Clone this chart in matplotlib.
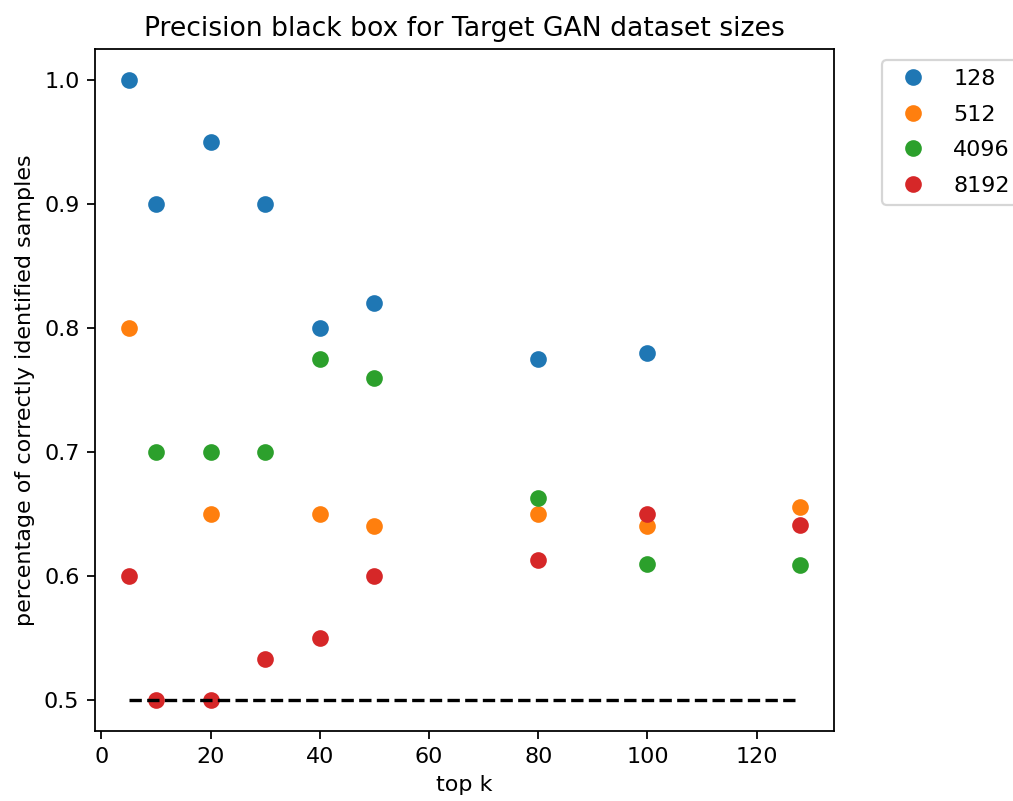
import matplotlib
matplotlib.use("Agg")
import matplotlib.pyplot as plt

top_k = [5, 10, 20, 30, 40, 50, 80, 100, 128]

k_128 = [5, 10, 20, 30, 40, 50, 80, 100]
prec_128 = [1.0, 0.9, 0.95, 0.9, 0.8, 0.82, 0.775, 0.78]

k_512 = [5, 20, 40, 50, 80, 100, 128]
prec_512 = [0.8, 0.65, 0.65, 0.64, 0.65, 0.64, 0.656]

k_4096 = [10, 20, 30, 40, 50, 80, 100, 128]
prec_4096 = [0.7, 0.7, 0.7, 0.775, 0.76, 0.663, 0.61, 0.609]

k_8192 = [5, 10, 20, 30, 40, 50, 80, 100, 128]
prec_8192 = [0.6, 0.5, 0.5, 0.533, 0.55, 0.6, 0.613, 0.65, 0.641]

series = [
    ("128", k_128, prec_128),
    ("512", k_512, prec_512),
    ("4096", k_4096, prec_4096),
    ("8192", k_8192, prec_8192),
]

baseline = 0.5

DPI = 160
fig = plt.figure(figsize=(1013 / DPI, 801 / DPI), dpi=DPI)
ax = fig.add_axes([95 / 1013, 1 - 731 / 801, (834 - 95) / 1013, (731 - 49) / 801])

for label, k, p in series:
    ax.plot(k, p, "o", markersize=6.5, label=label)

ax.plot([top_k[0], top_k[-1]], [baseline, baseline], "k--")

ax.set_title("Precision black box for Target GAN dataset sizes")
ax.set_xlabel("top k")
ax.set_ylabel("percentage of correctly identified samples")
ax.legend(loc="upper left", bbox_to_anchor=(1.05, 1), labelspacing=0.7)

fig.savefig("out.png", dpi=DPI)
